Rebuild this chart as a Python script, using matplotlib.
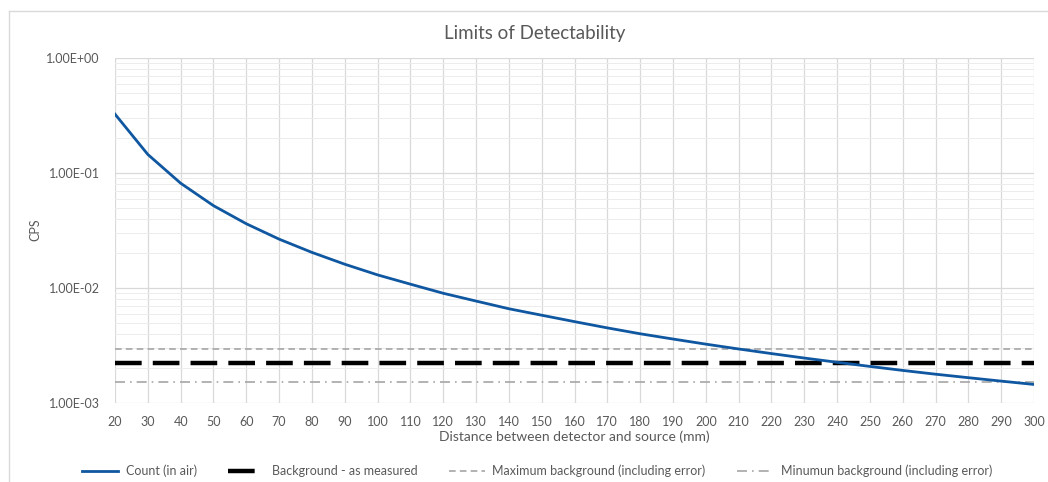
import matplotlib
matplotlib.use("Agg")
import matplotlib.pyplot as plt
from matplotlib.lines import Line2D
from matplotlib.ticker import FixedLocator, LogLocator, NullFormatter

distance = [20, 30, 40, 50, 60, 70, 80, 90, 100, 110, 120, 130, 140, 150, 160,
            170, 180, 190, 200, 210, 220, 230, 240, 250, 260, 270, 280, 290, 300]
count_air = [0.325, 0.145, 0.0815, 0.052, 0.0362, 0.0266, 0.0204, 0.0161, 0.0130,
             0.0108, 0.0090, 0.0077, 0.0066, 0.0058, 0.0051, 0.0045, 0.0040, 0.0036,
             0.00325, 0.00295, 0.00269, 0.00246, 0.00226, 0.00208, 0.00192, 0.00178,
             0.00166, 0.00155, 0.00145]
background = 0.00224
max_background = 0.00292
min_background = 0.00152
y_ticks = [1e-3, 1e-2, 1e-1, 1e0]
y_tick_labels = ["1.00E-03", "1.00E-02", "1.00E-01", "1.00E+00"]

plt.rcParams['font.family'] = ['Lato', 'DejaVu Sans']
txt = "#595959"
grid = "#d9d9d9"

W, H = 1048, 482
fig = plt.figure(figsize=(W / 100, H / 100), dpi=100)
# chart-area border (top and left edges visible)
fig.add_artist(Line2D([9 / W, 1], [1 - 11 / H, 1 - 11 / H], transform=fig.transFigure,
                      color="#d9d9d9", lw=1))
fig.add_artist(Line2D([9 / W, 9 / W], [0, 1 - 11 / H], transform=fig.transFigure,
                      color="#d9d9d9", lw=1))

ax = fig.add_axes([115 / W, 1 - 403 / H, 919 / W, 345 / H])

ax.plot(distance, count_air, color="#0f57a0", lw=2.0, label="Count (in air)", zorder=5)
ax.plot([distance[0], distance[-1]], [background] * 2, color="black", lw=3.2,
        dashes=(6, 2.5), label="Background - as measured", zorder=4)
ax.plot([distance[0], distance[-1]], [max_background] * 2, color="#a6a6a6", lw=1.2,
        dashes=(4, 2.5), label="Maximum background (including error)", zorder=3)
ax.plot([distance[0], distance[-1]], [min_background] * 2, color="#a6a6a6", lw=1.2,
        dashes=(6, 3, 1, 3), label="Minumun background (including error)", zorder=3)

ax.set_yscale("log")
ax.set_ylim(1e-3, 1e0)
ax.set_xlim(20, 300)
ax.xaxis.set_major_locator(FixedLocator(distance))
ax.yaxis.set_major_locator(FixedLocator(y_ticks))
ax.set_yticklabels(y_tick_labels)
ax.yaxis.set_minor_locator(LogLocator(base=10, subs=range(2, 10), numticks=20))
ax.yaxis.set_minor_formatter(NullFormatter())
ax.grid(True, which="major", color=grid, lw=0.9)
ax.grid(True, which="minor", axis="y", color="#ececec", lw=0.7)
ax.set_axisbelow(True)
for s in ax.spines.values():
    s.set_visible(False)
ax.tick_params(which="both", length=0, colors=txt, labelsize=9)
ax.tick_params(axis="x", pad=9)
ax.tick_params(axis="y", pad=11)

ax.set_xlabel("Distance between detector and source (mm)", color=txt, fontsize=10)
ax.xaxis.set_label_coords(0.5, -(437 - 403) / 345)
ax.xaxis.label.set_va("center")
fig.text(35 / W, 1 - 230 / H, "CPS", rotation=90, ha="center", va="center",
         color=txt, fontsize=9)
fig.text(535 / W, 1 - 33 / H, "Limits of Detectability", ha="center", va="center",
         color=txt, fontsize=13.5)

leg = fig.legend(loc="center", bbox_to_anchor=(537 / W, 1 - 471 / H), ncol=4,
                 frameon=False, fontsize=9, handlelength=2.9, columnspacing=2.5,
                 handletextpad=0.6)
for t in leg.get_texts():
    t.set_color(txt)

fig.savefig("out.png", dpi=100, facecolor="white")
